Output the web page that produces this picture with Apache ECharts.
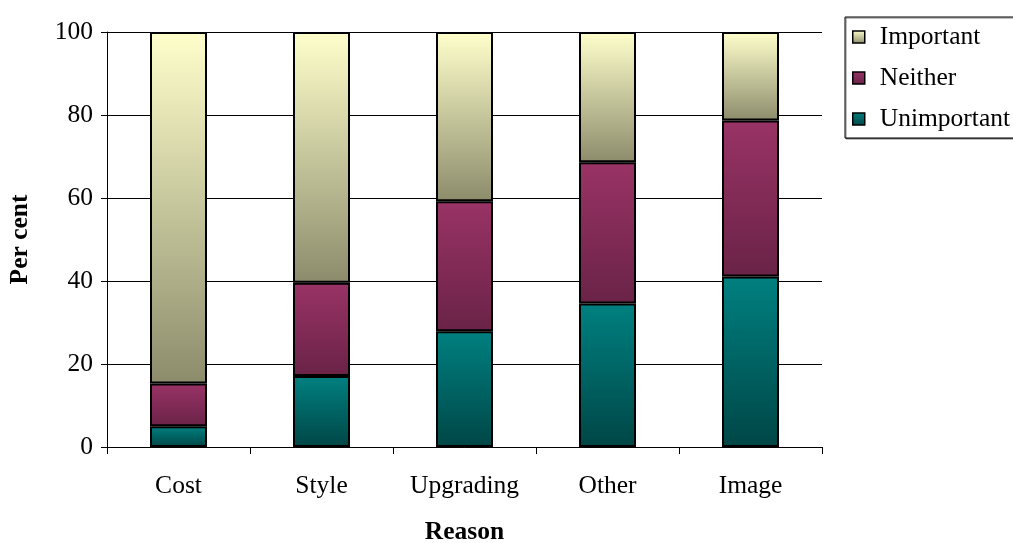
<!DOCTYPE html>
<html>
<head>
<meta charset="utf-8">
<script src="https://cdn.jsdelivr.net/npm/echarts@6/dist/echarts.min.js"></script>
<style>html,body{margin:0;padding:0;background:#fff}#c{width:1013px;height:543px}</style>
</head>
<body>
<div id="c"></div>
<script>
const categories = ['Cost', 'Style', 'Upgrading', 'Other', 'Image'];
const unimportant = [5.0, 17.1, 27.9, 34.6, 41.1];
const neither = [10.3, 22.5, 31.3, 34.0, 37.6];
const important = [84.7, 60.4, 40.8, 31.4, 21.3];
const yTicks = [0, 20, 40, 60, 80, 100];

const font = '"Liberation Serif", "Times New Roman", serif';
function grad(top, bottom) {
  return new echarts.graphic.LinearGradient(0, 0, 0, 1, [
    { offset: 0, color: top }, { offset: 1, color: bottom }
  ]);
}
const chart = echarts.init(document.getElementById('c'), null, { renderer: 'canvas' });
const barCommon = { type: 'bar', stack: 'total', barWidth: 57, animation: false };
chart.setOption({
  animation: false,
  grid: { left: 107, right: 191, top: 32, bottom: 96, containLabel: false, outerBoundsMode: 'none' },
  legend: {
    orient: 'vertical', left: 845, top: 17,
    data: ['Important', 'Neither', 'Unimportant'],
    itemWidth: 12, itemHeight: 12, itemGap: 15,
    padding: [7, 40, 6, 7],
    borderColor: '#000', borderWidth: 1,
    shadowColor: 'rgba(0,0,0,0.5)', shadowOffsetX: 1, shadowOffsetY: 1,
    backgroundColor: '#fff',
    icon: 'rect',
    itemStyle: { borderColor: '#000', borderWidth: 1.5 },
    textStyle: { fontFamily: font, fontSize: 25.5, color: '#000', padding: [0, 0, 0, 10], lineHeight: 26 }
  },
  xAxis: {
    type: 'category', data: categories,
    name: 'Reason', nameLocation: 'middle', nameGap: 72,
    nameTextStyle: { fontFamily: font, fontSize: 25.5, fontWeight: 'bold', color: '#000' },
    axisLine: { lineStyle: { color: '#000', width: 1 } },
    axisTick: { show: true, length: 7, lineStyle: { color: '#000' } },
    axisLabel: { fontFamily: font, fontSize: 25.5, color: '#000', margin: 26, interval: 0 }
  },
  yAxis: {
    type: 'value', min: 0, max: 100, interval: 20,
    name: 'Per cent', nameLocation: 'middle', nameGap: 74, nameRotate: 90,
    nameTextStyle: { fontFamily: font, fontSize: 25.5, fontWeight: 'bold', color: '#000' },
    axisLine: { show: true, lineStyle: { color: '#000', width: 1 } },
    axisTick: { show: true, length: 6, lineStyle: { color: '#000' } },
    axisLabel: { fontFamily: font, fontSize: 25.5, color: '#000', margin: 14,
      formatter: v => yTicks.includes(v) ? String(v) : '' },
    splitLine: { show: true, lineStyle: { color: '#000', width: 1 } }
  },
  series: [
    Object.assign({}, barCommon, { name: 'Unimportant', data: unimportant,
      itemStyle: { color: grad('#008080', '#004646'), borderColor: '#000', borderWidth: 2 } }),
    Object.assign({}, barCommon, { name: 'Neither', data: neither,
      itemStyle: { color: grad('#993366', '#6a2347'), borderColor: '#000', borderWidth: 2 } }),
    Object.assign({}, barCommon, { name: 'Important', data: important,
      itemStyle: { color: grad('#FFFFCC', '#8c8c6c'), borderColor: '#000', borderWidth: 2 } })
  ]
});
</script>
</body>
</html>
